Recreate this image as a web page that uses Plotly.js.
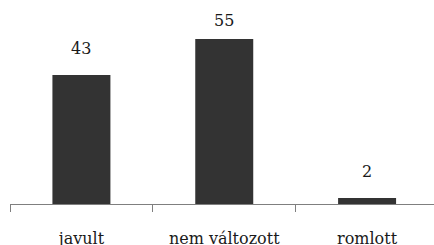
<!DOCTYPE html>
<html>
<head>
<meta charset="utf-8">
<script src="https://cdn.plot.ly/plotly-3.0.1.min.js"></script>
<style>html,body{margin:0;padding:0;background:#fff;}#chart{width:434px;height:245px;}</style>
</head>
<body>
<div id="chart"></div>
<script>
const categories = ["javult", "nem változott", "romlott"];
const values = [43, 55, 2];
const valueLabels = ["43", "55", "2"];

const FONT = "DejaVu Serif";
const labelOffset = 5.0;   // data units above bar for the value label
const labelCap = 57.3;     // keep labels inside the top of the chart

const trace = {
  type: "bar",
  x: categories,
  y: values,
  marker: { color: "#333333", line: { width: 0 } },
  hoverinfo: "none"
};

const annotations = categories.map((c, i) => ({
  x: c,
  y: Math.min(values[i] + labelOffset, labelCap),
  xref: "x",
  yref: "y",
  text: valueLabels[i],
  showarrow: false,
  yanchor: "bottom",
  font: { family: FONT, size: 16, color: "#1a1a1a" }
}));

const layout = {
  width: 434,
  height: 245,
  margin: { l: 10, r: 0, t: 24, b: 41 },
  paper_bgcolor: "#ffffff",
  plot_bgcolor: "#ffffff",
  showlegend: false,
  bargap: 0.594,
  xaxis: {
    type: "category",
    range: [-0.5, 2.4685],
    showline: true,
    linecolor: "#7f7f7f",
    linewidth: 1,
    ticks: "outside",
    tickson: "boundaries",
    ticklen: 7,
    tickcolor: "#7f7f7f",
    tickwidth: 1,
    showgrid: false,
    zeroline: false,
    ticklabelstandoff: 20,
    tickfont: { family: FONT, size: 16, color: "#1a1a1a" }
  },
  yaxis: {
    range: [0, 60],
    visible: false,
    showgrid: false,
    zeroline: false
  },
  annotations: annotations
};

Plotly.newPlot("chart", [trace], layout, { staticPlot: true, displayModeBar: false });
</script>
</body>
</html>
